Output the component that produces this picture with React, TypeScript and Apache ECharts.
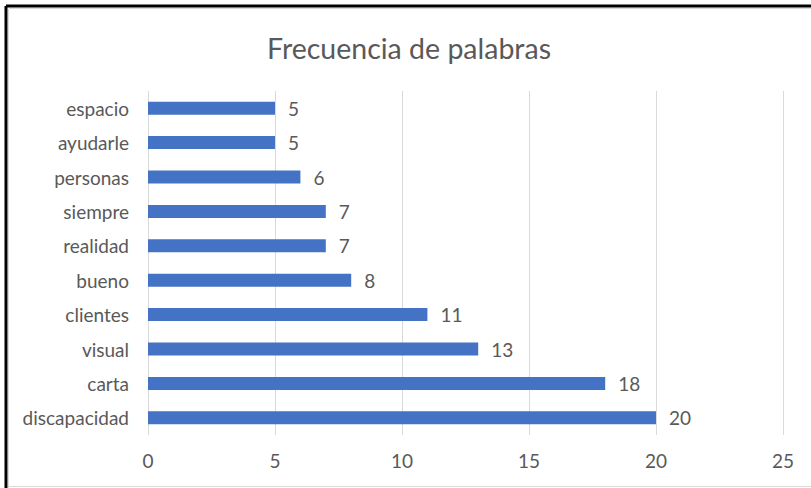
import React, { useEffect, useRef } from "react";
import * as echarts from "echarts";

const title = "Frecuencia de palabras";
const categories = ["discapacidad", "carta", "visual", "clientes", "bueno", "realidad", "siempre", "personas", "ayudarle", "espacio"];
const values = [20, 18, 13, 11, 8, 7, 7, 6, 5, 5];
const axisMin = 0;
const axisMax = 25;
const axisInterval = 5;

const FONT = "Lato";

export default function App() {
  const ref = useRef<HTMLDivElement>(null);
  useEffect(() => {
    const chart = echarts.init(ref.current!, null, { renderer: "svg" });
    chart.setOption({
      animation: false,
      backgroundColor: "#ffffff",
      title: {
        text: title,
        left: 404,
        top: 28,
        textAlign: "center",
        textStyle: { fontFamily: FONT, fontSize: 28.5, fontWeight: "normal", color: "#595959" },
      },
      grid: { left: 148, right: 28, top: 91, bottom: 53, containLabel: false },
      xAxis: {
        type: "value",
        min: axisMin,
        max: axisMax,
        interval: axisInterval,
        axisLine: { show: false },
        axisTick: { show: false },
        splitLine: { show: true, lineStyle: { color: "#d9d9d9", width: 1 } },
        axisLabel: { color: "#595959", fontFamily: FONT, fontSize: 19, margin: 16 },
      },
      yAxis: {
        type: "category",
        data: categories,
        axisLine: { show: false },
        axisTick: { show: false },
        axisLabel: { color: "#595959", fontFamily: FONT, fontSize: 19, margin: 19 },
      },
      series: [
        {
          type: "bar",
          data: values,
          barWidth: 13,
          itemStyle: { color: "#4472c4" },
          label: {
            show: true,
            position: "right",
            distance: 13,
            color: "#595959",
            fontFamily: FONT,
            fontSize: 19,
          },
        },
      ],
      graphic: [
        { type: "line", shape: { x1: 6, y1: 6, x2: 811, y2: 6 }, style: { stroke: "#000", lineWidth: 3 } },
        { type: "line", shape: { x1: 6, y1: 6, x2: 6, y2: 488 }, style: { stroke: "#000", lineWidth: 3 } },
        { type: "line", shape: { x1: 9, y1: 8.5, x2: 811, y2: 8.5 }, style: { stroke: "#d9d9d9", lineWidth: 1 } },
        { type: "line", shape: { x1: 8.5, y1: 9, x2: 8.5, y2: 488 }, style: { stroke: "#d9d9d9", lineWidth: 1 } },
        { type: "line", shape: { x1: 9, y1: 486.5, x2: 811, y2: 486.5 }, style: { stroke: "#d9d9d9", lineWidth: 1 } },
      ],
    });
    return () => chart.dispose();
  }, []);
  return <div ref={ref} style={{ position: "fixed", left: 0, top: 0, width: 811, height: 488 }} />;
}
